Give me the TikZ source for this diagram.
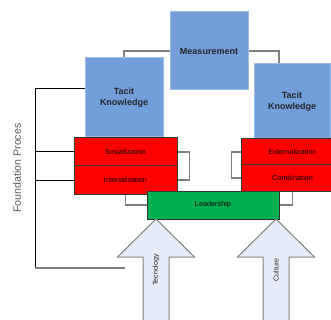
\documentclass[tikz,border=0pt]{standalone}
\usepackage{fontspec}
\setmainfont{Liberation Sans}
\usetikzlibrary{positioning, calc}
\definecolor{cblue}{HTML}{729FDB}
\definecolor{cred}{HTML}{FF0000}
\definecolor{cgreen}{HTML}{00B050}
\definecolor{cpale}{HTML}{E6ECF7}
\definecolor{cgrey}{HTML}{808080}
\tikzset{
  every picture/.style={x=1pt, y=-1pt, line width=1pt},
  tacit/.style={draw=cblue!70!white, fill=cblue, align=center, text=black!85, font=\bfseries\fontsize{9}{11}\selectfont},
  stage/.style={draw=black!80, fill=#1, minimum width=103pt, inner sep=0pt, text=black, font=\fontsize{7.3}{9}\selectfont},
  stage/.default=cred,
  link/.style={draw=cgrey, line width=1.2pt},
  pillar/.style={draw=cgrey, fill=cpale, line width=1pt},
  side/.style={rotate=90, text=black!65, font=\fontsize{10.6}{12}\selectfont},
}
% block arrow pointing up to the leadership bar
\newcommand{\uparrowbox}[3]{
  \draw[pillar] (#1,219) -- ++(38.5,38) -- ++(-25.5,0) -- ++(0,70) -- ++(-26,0) -- ++(0,-70) -- ++(-25.5,0) -- cycle;
  \node[rotate=90, text=black!85, font=\fontsize{7.1}{9}\selectfont] (#2) at (#1,270) {#3};}

\begin{document}
\begin{tikzpicture}
  \useasboundingbox (0,0) rectangle (331,320);
  \clip (0,0) rectangle (331,320);

  \node[tacit, minimum width=78pt, minimum height=78pt] (meas) at (209,51) {Measurement};
  \node[tacit, minimum width=78pt, minimum height=79pt] (tacitL) at (124,97.5) {Tacit\\Knowledge};
  \node[tacit, minimum width=76pt, minimum height=76pt] (tacitR) at (292,102) {Tacit\\Knowledge};
  \draw[link] (meas.west) -| (tacitL.north);
  \draw[link] (meas.east) -| ([xshift=-13pt]tacitR.north);

  % the four conversion modes
  \node[stage, minimum height=28pt] (socL) at (125.5,152) {Sosialization};
  \node[stage, minimum height=28pt] (intL) at (125.5,180) {Intenalization};
  \node[stage, minimum height=26pt] (ext) at (292.5,152) {Externalization};
  \node[stage, minimum height=26pt] (comb) at (292.5,178) {Combination};
  \draw[link] (socL.east) -- ++(12,0) |- (intL.east);
  \draw[link] (ext.west) -- ++(-9,0) |- (comb.west);

  \node[stage=cgreen, minimum width=132pt, minimum height=28pt] (lead) at (213,205) {Leadership};
  \draw[link] (intL.south) |- (lead.west);
  \draw[link] (comb.south) |- (lead.east);

  % foundation spine on the left
  \coordinate (spine) at (35,268);
  \coordinate (base) at (125,268);
  \coordinate (top) at ($(tacitL.west)+(0,-8.5)$);
  \draw (top) -| (spine);
  \draw (socL.west) -- (socL.west -| spine);
  \draw (intL.west) -- (intL.west -| spine);
  \draw[link] (spine) -- (base);
  \node[side] (found) at (17,168) {Foundation Proces};

  \uparrowbox{156}{tech}{Tecnology}
  \uparrowbox{276}{cult}{Culture}
\end{tikzpicture}
\end{document}
